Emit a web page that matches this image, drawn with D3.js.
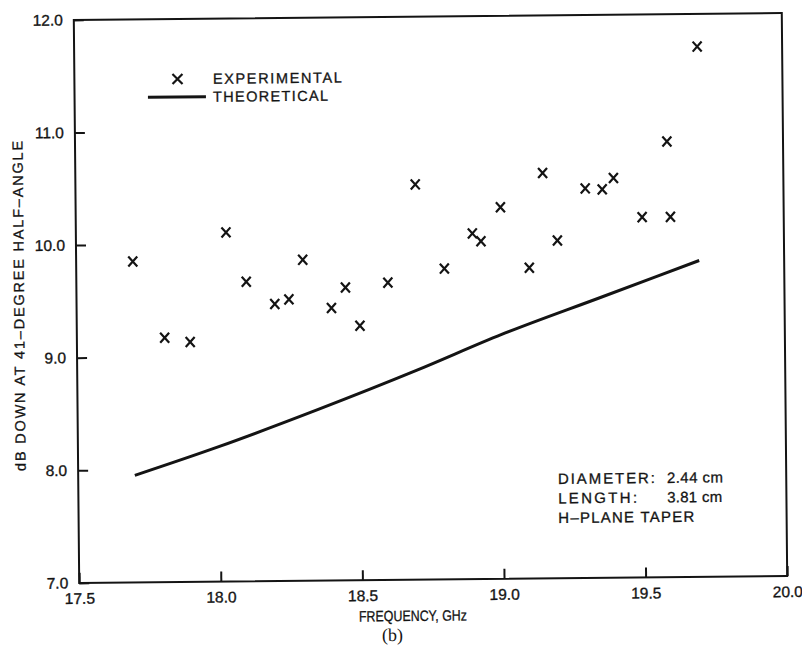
<!DOCTYPE html>
<html>
<head>
<meta charset="utf-8">
<script src="https://cdn.jsdelivr.net/npm/d3@7"></script>
<style>
  html, body { margin: 0; padding: 0; background: #fff; }
  svg { display: block; }
  text { font-family: "Liberation Sans", Arial, Helvetica, sans-serif; fill: #141414; }
</style>
</head>
<body>
<svg id="chart" width="802" height="655"></svg>
<script>
// Measured pattern level: frequency (GHz) vs dB down at the 41-degree half-angle
const expFreq = [17.70, 17.81, 17.90, 18.03, 18.10, 18.20, 18.25, 18.30, 18.40, 18.45,
                 18.50, 18.60, 18.70, 18.80, 18.90, 18.93, 19.00, 19.10, 19.15, 19.20,
                 19.30, 19.36, 19.40, 19.50, 19.59, 19.60, 19.70];
const expDb   = [9.85, 9.17, 9.13, 10.10, 9.66, 9.46, 9.50, 9.85, 9.42, 9.60,
                 9.26, 9.64, 10.51, 9.76, 10.07, 10.00, 10.30, 9.76, 10.60, 10.00,
                 10.46, 10.45, 10.55, 10.20, 10.87, 10.20, 11.71];

// Theoretical prediction
const theoFreq = [17.70, 18.00, 18.35, 18.70, 19.00, 19.35, 19.70];
const theoDb   = [7.95, 8.20, 8.52, 8.86, 9.17, 9.49, 9.81];

// Axis ticks
const xTicks = [17.5, 18.0, 18.5, 19.0, 19.5, 20.0];
const yTicks = [7.0, 8.0, 9.0, 10.0, 11.0, 12.0];

const legendLabels = ["EXPERIMENTAL", "THEORETICAL"];
const legendWidths = [129, 115];
const noteLines = [
  { label: "DIAMETER:", w: 97, value: "2.44 cm", vw: 56 },
  { label: "LENGTH:", w: 79, value: "3.81 cm", vw: 55 },
  { label: "H\u2013PLANE TAPER", w: 136, value: "", vw: 0 }
];

const ink = "#141414";
const svg = d3.select("#chart");
const plotL = 76.5, plotR = 784.5, plotT = 16.5, plotB = 579.5;

// The whole sheet sits a little askew, as it was mounted
const sheet = svg.append("g").attr("transform", "rotate(-0.55, 430.5, 298)");

const x = d3.scaleLinear().domain([17.5, 20.0]).range([plotL, plotR]);
const y = d3.scaleLinear().domain([7.0, 12.0]).range([plotB, plotT]);

// Frame
sheet.append("rect")
  .attr("x", plotL).attr("y", plotT)
  .attr("width", plotR - plotL).attr("height", plotB - plotT)
  .attr("fill", "none").attr("stroke", ink).attr("stroke-width", 2);

const styleTicks = g => {
  g.select(".domain").remove();
  g.selectAll(".tick line").attr("stroke", ink).attr("stroke-width", 2);
  g.selectAll(".tick text")
    .attr("font-size", 15.5).attr("fill", ink)
    .attr("stroke", ink).attr("stroke-width", 0.35)
    .style("font-family", "'Liberation Sans', Arial, sans-serif");
};

// Axes with inward ticks
const xAxis = d3.axisBottom(x).tickValues(xTicks).tickFormat(d3.format(".1f"))
  .tickSizeInner(-10).tickSizeOuter(0).tickPadding(10);
sheet.append("g").attr("transform", `translate(0,${plotB})`).call(xAxis).call(styleTicks);

const yAxis = d3.axisLeft(y).tickValues(yTicks).tickFormat(d3.format(".1f"))
  .tickSizeInner(-10).tickSizeOuter(0).tickPadding(11);
sheet.append("g").attr("transform", `translate(${plotL},0)`).call(yAxis).call(styleTicks);

// Plain label helper: fixed-width lettering
const label = (parent, txt, px, py, size, width, adjust) => {
  const t = parent.append("text")
    .attr("x", px).attr("y", py)
    .attr("font-size", size)
    .attr("stroke", ink).attr("stroke-width", 0.3)
    .text(txt);
  if (width) t.attr("textLength", width).attr("lengthAdjust", adjust || "spacing");
  return t;
};

// Axis titles
label(sheet, "FREQUENCY, GHz", 409.9 - 54, 620.8, 15, 108, "spacingAndGlyphs");

sheet.append("text")
  .attr("transform", `translate(24,${302 + 165}) rotate(-90)`)
  .attr("font-size", 14.5)
  .attr("stroke", ink).attr("stroke-width", 0.3)
  .attr("textLength", 330).attr("lengthAdjust", "spacing")
  .text("dB DOWN AT 41\u2013DEGREE HALF\u2013ANGLE");

sheet.append("text")
  .attr("x", 389.2).attr("y", 640.6)
  .attr("text-anchor", "middle").attr("font-size", 18)
  .style("font-family", "'Liberation Serif', 'Times New Roman', serif")
  .text("(b)");

// Theoretical line
const line = d3.line().x((d, i) => x(theoFreq[i])).y(d => y(d)).curve(d3.curveMonotoneX);
sheet.append("path")
  .datum(theoDb)
  .attr("d", line)
  .attr("fill", "none").attr("stroke", ink).attr("stroke-width", 3)
  .attr("stroke-linecap", "butt");

// Experimental points drawn as X marks
const cross = (cx, cy, w, h) =>
  `M${cx - w},${cy - h}L${cx + w},${cy + h}M${cx - w},${cy + h}L${cx + w},${cy - h}`;
sheet.append("g").selectAll("path")
  .data(expDb)
  .join("path")
  .attr("d", (d, i) => cross(x(expFreq[i]), y(d), 4.5, 5))
  .attr("fill", "none").attr("stroke", ink).attr("stroke-width", 2.2);

// Legend
const lg = sheet.append("g");
lg.append("path").attr("d", cross(179.6, 76.6, 5, 5))
  .attr("fill", "none").attr("stroke", ink).attr("stroke-width", 2.2);
lg.append("line").attr("x1", 149.9).attr("x2", 207.9).attr("y1", 94.6).attr("y2", 94.6)
  .attr("stroke", ink).attr("stroke-width", 3);
legendLabels.forEach((d, i) => label(lg, d, 215, 81.7 + i * 18, 14.5, legendWidths[i]));

// Horn description
const note = sheet.append("g");
noteLines.forEach((row, i) => {
  label(note, row.label, 556.2, 485.2 + i * 19.5, 15, row.w);
  if (row.value) label(note, row.value, 665.2, 485.2 + i * 19.5, 15, row.vw);
});
</script>
</body>
</html>
